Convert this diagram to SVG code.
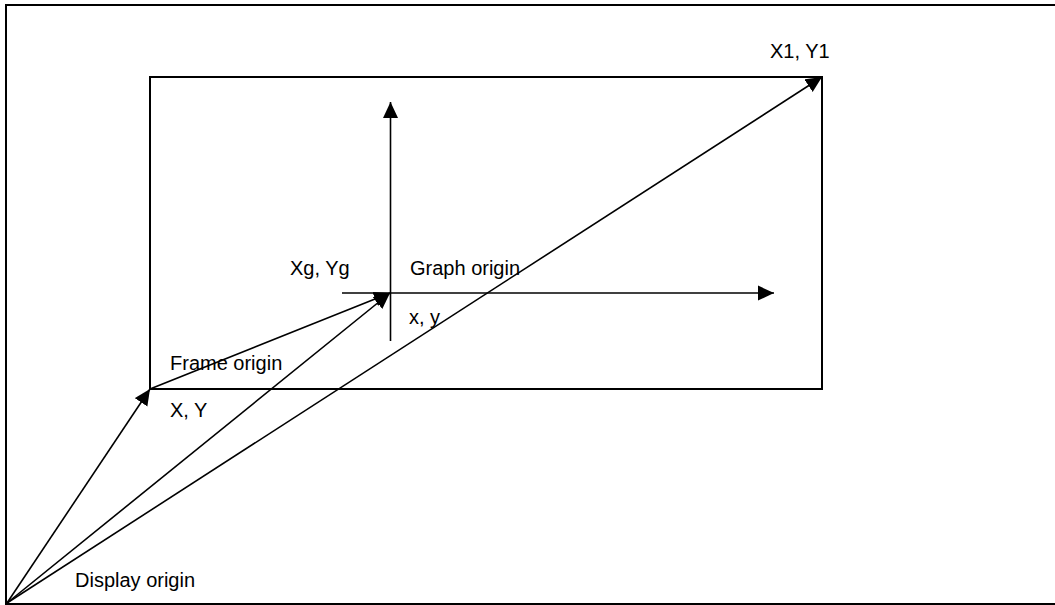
<svg xmlns="http://www.w3.org/2000/svg" width="1055" height="605" viewBox="0 0 1055 605">
<style>
.frame{fill:none;stroke:#000;stroke-width:2}
.conn{fill:none;stroke:#000;stroke-width:1.6}
text{font-family:"Liberation Sans",Arial,sans-serif;font-size:20px;fill:#000}
</style>
<defs>
<marker id="ah" markerUnits="userSpaceOnUse" markerWidth="16" markerHeight="16" viewBox="0 0 16 16" refX="16" refY="8" orient="auto">
<path d="M0,0.5 L16,8 L0,15.5 Z" fill="#000"/>
</marker>
</defs>
<rect width="1055" height="605" fill="#fff"/>
<g id="display">
<path class="frame" d="M1056,5 L6,5 L6,604 L1056,604"/>
<text x="75" y="587">Display origin</text>
</g>
<g id="frame">
<rect class="frame" x="150" y="77" width="672" height="312"/>
<text x="170" y="370">Frame origin</text>
<text x="170" y="417">X, Y</text>
</g>
<g id="graph">
<text x="290" y="275">Xg, Yg</text>
<text x="410" y="275">Graph origin</text>
<text x="409" y="324">x, y</text>
</g>
<g id="corner">
<text x="770" y="58">X1, Y1</text>
</g>
<g id="connectors">
<line class="conn" x1="390.5" y1="341" x2="390.5" y2="102" marker-end="url(#ah)"/>
<line class="conn" x1="342" y1="293" x2="774" y2="293" marker-end="url(#ah)"/>
<line class="conn" x1="7" y1="603" x2="150" y2="389" marker-end="url(#ah)"/>
<line class="conn" x1="150" y1="389" x2="390" y2="293" marker-end="url(#ah)"/>
<line class="conn" x1="7" y1="603" x2="390" y2="293" marker-end="url(#ah)"/>
<line class="conn" x1="7" y1="603" x2="822" y2="77" marker-end="url(#ah)"/>
</g>
</svg>
